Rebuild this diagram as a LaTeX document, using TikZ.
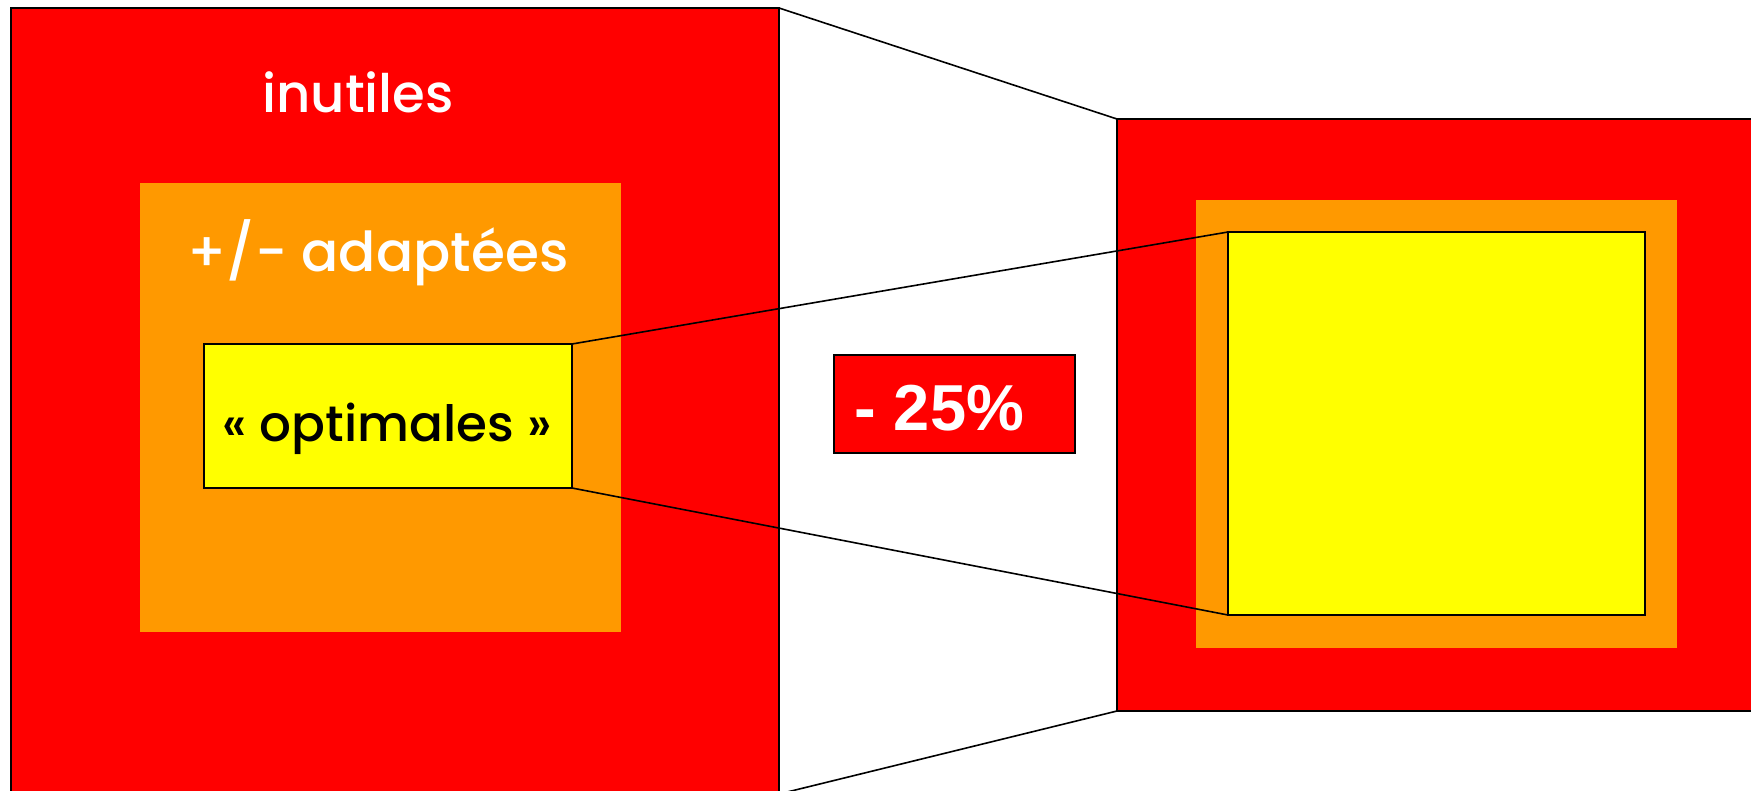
\documentclass[tikz,border=0pt]{standalone}
\usepackage{fontspec}
\setmainfont{Poppins}[UprightFont=* Medium]
\newfontfamily\arialbold{Liberation Sans}
\definecolor{cred}{HTML}{FF0000}
\definecolor{corange}{HTML}{FF9900}
\definecolor{cyellow}{HTML}{FFFF00}
\begin{document}
\begin{tikzpicture}[x=1pt,y=-1pt,
  box/.style={rectangle,inner sep=0pt,outer sep=0pt,line width=1.4pt},
  lbl/.style={inner sep=0pt,anchor=base,font=\fontsize{53}{60}\selectfont},
  link/.style={line width=1.6pt,black}]
\useasboundingbox (0,0) rectangle (1751,790);
% left group
\node[box,draw=black,fill=cred,minimum width=768pt,minimum height=786pt] (lr) at (395,401) {};
\node[box,fill=corange,minimum width=481pt,minimum height=449pt] (lo) at (380.5,407.5) {};
\node[box,draw=black,fill=cyellow,minimum width=368pt,minimum height=144pt] (ys) at (388,416) {};
\node[lbl,text=white] (t1) at (358,112) {inutiles};
\node[lbl,text=white,font=\fontsize{55}{62}\selectfont] (t2) at (378,271) {+/- adaptées};
\node[lbl,text=black,font=\fontsize{50}{56}\selectfont] (t3) at (387,441) {« optimales »};
% right group
\node[box,draw=black,fill=cred,minimum width=640pt,minimum height=592pt] (rr) at (1437,415) {};
\node[box,fill=corange,minimum width=481pt,minimum height=448pt] (ro) at (1436.5,424) {};
\node[box,draw=black,fill=cyellow,minimum width=417pt,minimum height=383pt] (yb) at (1436.5,423.5) {};
% label -25%
\node[box,draw=black,fill=cred,minimum width=241pt,minimum height=98pt] (pc) at (954.5,404) {};
\node[inner sep=0pt,anchor=base west,text=white,font=\arialbold\bfseries\fontsize{65}{72}\selectfont] (t4) at (854,430) {- 25\%};
% connectors
\draw[link] (lr.north east) -- (rr.north west);
\draw[link] (lr.south east) -- (rr.south west);
\draw[link] (ys.north east) -- (yb.north west);
\draw[link] (ys.south east) -- (yb.south west);
\end{tikzpicture}
\end{document}
